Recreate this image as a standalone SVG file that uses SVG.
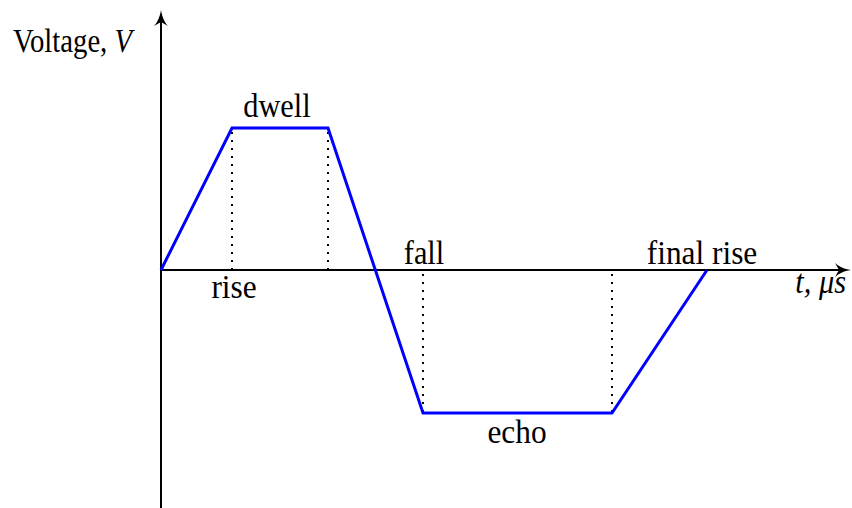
<svg xmlns="http://www.w3.org/2000/svg" width="852" height="508" viewBox="0 0 852 508">
<style>
.ax{stroke:#000;stroke-width:2;fill:none}
.dot{stroke:#000;stroke-width:2;stroke-dasharray:2 6;fill:none}
.w{stroke:#0000ff;stroke-width:3;fill:none;stroke-linejoin:miter}
</style>
<rect width="852" height="508" fill="#fff"/>
<g id="connectors">
<line class="ax" x1="161" y1="508" x2="161" y2="14"/>
<path d="M161,10 C162,17 165,23 168,26 L161,22 L154,26 C157,23 160,17 161,10 Z" fill="#000"/>
<line class="ax" x1="161" y1="270" x2="846" y2="270"/>
<path d="M851,270 C844,271 838,274 835,277 L839,270 L835,263 C838,266 844,269 851,270 Z" fill="#000"/>
<line class="dot" x1="232" y1="132" x2="232" y2="270"/>
<line class="dot" x1="328" y1="132" x2="328" y2="270"/>
<line class="dot" x1="423" y1="274" x2="423" y2="413"/>
<line class="dot" x1="612" y1="274" x2="612" y2="413"/>
<polyline class="w" points="161,270 232,128 328,128 423,413 612,413 707,270"/>
</g>
<g id="labels" font-family="Liberation Serif, serif" font-size="33" fill="#000">
<text transform="translate(13,52) scale(0.87,1)">Voltage, <tspan font-style="italic">V</tspan></text>
<text transform="translate(277,117) scale(0.92,1)" text-anchor="middle">dwell</text>
<text transform="translate(234,298) scale(0.95,1)" text-anchor="middle">rise</text>
<text transform="translate(424,264) scale(0.92,1)" text-anchor="middle">fall</text>
<text transform="translate(702,264) scale(0.95,1)" text-anchor="middle">final rise</text>
<text transform="translate(517,443) scale(0.95,1)" text-anchor="middle">echo</text>
<text transform="translate(846,293) scale(0.92,1)" font-style="italic" text-anchor="end">t, μs</text>
</g>
</svg>
